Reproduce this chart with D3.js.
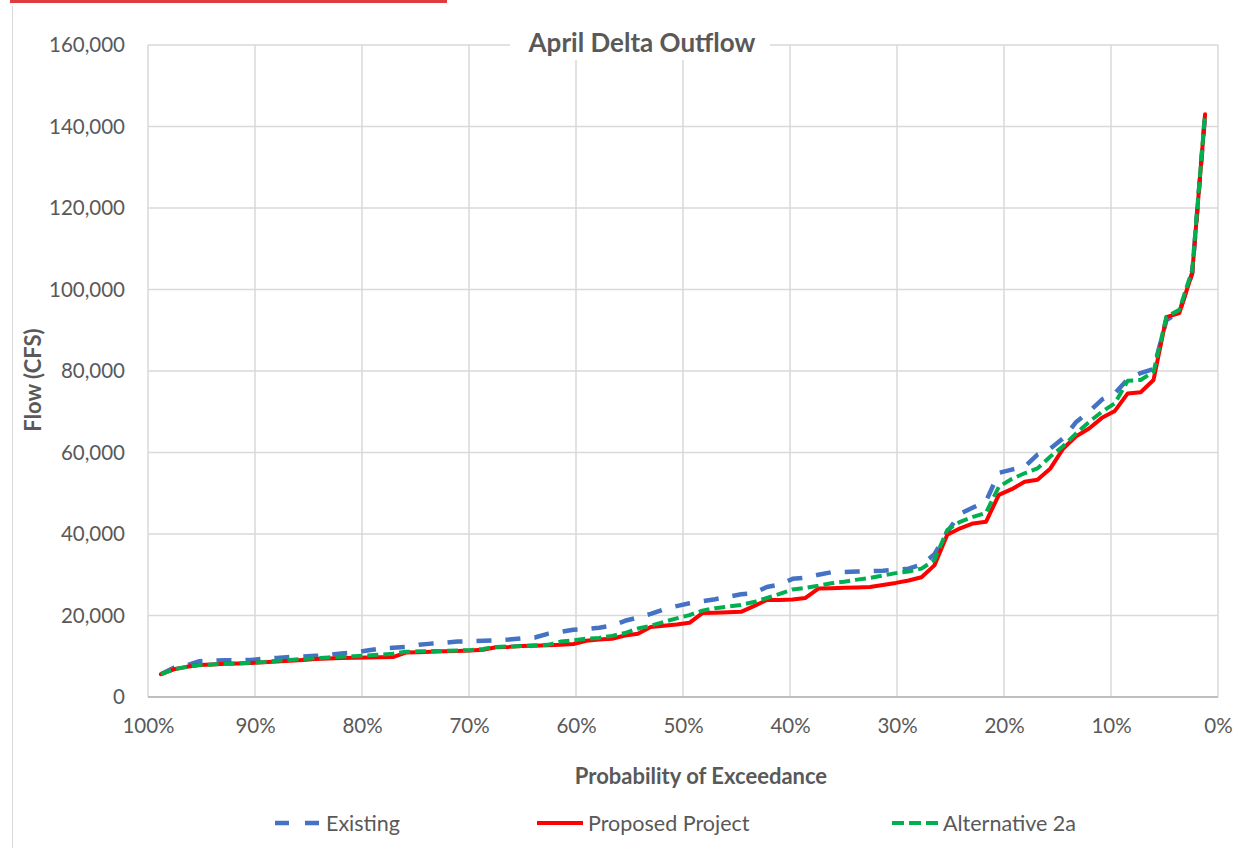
<!DOCTYPE html>
<html>
<head>
<meta charset="utf-8">
<script src="https://cdn.jsdelivr.net/npm/d3@7"></script>
<style>
  body { margin: 0; background: #fff; }
  text { font-family: Lato, "Open Sans", sans-serif; fill: #595959; }
</style>
</head>
<body>
<script>
// ranked April flows (cfs), lowest to highest
var existing = [
  5600, 7200, 7800, 8800, 8900, 9000, 9050, 9100, 9400, 9600,
  9800, 9900, 10100, 10300, 10700, 10900, 11400, 11900, 12100, 12300,
  12800, 13100, 13300, 13600, 13700, 13800, 13900, 14100, 14400, 14600,
  15500, 16000, 16500, 16700, 17000, 17500, 18700, 19500, 20400, 21500,
  22300, 23000, 23500, 24000, 24600, 25200, 25500, 27000, 27600, 29000,
  29300, 30000, 30600, 30700, 30800, 30900, 31000, 31200, 31500, 32500,
  35000, 40500, 45000, 46500, 48000, 55000, 55800, 56500, 59500, 61000,
  63500, 67500, 70000, 73000, 74500, 78000, 79500, 80500, 92500, 94500,
  104000, 143000
];

var proposed = [
  5600, 6800, 7400, 7850, 8000, 8150, 8250, 8350, 8500, 8700,
  8900, 9100, 9300, 9450, 9600, 9650, 9700, 9750, 9800, 10900,
  11000, 11100, 11200, 11300, 11400, 11600, 12200, 12300, 12500, 12600,
  12700, 12800, 13000, 13800, 14100, 14300, 15100, 15500, 17200, 17500,
  17800, 18200, 20600, 20700, 20800, 20900, 22300, 23800, 23800, 23900,
  24300, 26600, 26700, 26800, 26900, 27000, 27500, 28000, 28600, 29400,
  32300, 39800, 41400, 42600, 43000, 49600, 51000, 52800, 53300, 56100,
  61000, 64000, 65900, 68500, 70200, 74500, 74800, 77800, 93200, 94200,
  104000, 143000
];

var alt2a = [
  5600, 6800, 7400, 7850, 8000, 8150, 8270, 8400, 8600, 8900,
  9100, 9300, 9500, 9700, 9900, 10000, 10200, 10400, 10600, 11100,
  11200, 11300, 11300, 11400, 11500, 11800, 12300, 12400, 12500, 12700,
  12800, 13600, 13900, 14300, 14500, 15000, 15700, 16800, 17500, 18400,
  19300, 20100, 21200, 21800, 22200, 22600, 23300, 24300, 25300, 26400,
  26800, 27300, 27900, 28300, 28800, 29200, 29800, 30400, 30800, 31500,
  33600, 41000, 43000, 44200, 45200, 51600, 53500, 54900, 56100, 59000,
  61600, 64700, 67500, 70000, 72100, 77600, 77800, 79800, 93300, 95000,
  104800, 143300
];

var xTicks = [100, 90, 80, 70, 60, 50, 40, 30, 20, 10, 0];
var yTicks = [0, 20000, 40000, 60000, 80000, 100000, 120000, 140000, 160000];

var seriesNames = ['Existing', 'Proposed Project', 'Alternative 2a'];

// Weibull plotting position: rank / (n + 1), largest flow gets rank 1
function exceedance(i, n) {
  return (n - i) / (n + 1) * 100;
}

var width = 1238, height = 848;
var plotLeft = 148, plotRight = 1218, plotTop = 45, plotBottom = 697;

var svg = d3.select('body')
  .append('svg')
  .attr('width', width)
  .attr('height', height);

// red strip + chart border bits from the source page
svg.append('rect')
  .attr('x', 10).attr('y', 0)
  .attr('width', 437).attr('height', 3)
  .attr('fill', '#e0393e');

svg.append('line')
  .attr('x1', 12.5).attr('x2', 12.5)
  .attr('y1', 6).attr('y2', height)
  .attr('stroke', '#d9d9d9')
  .attr('stroke-width', 1);

var x = d3.scaleLinear().domain([100, 0]).range([plotLeft, plotRight]);
var y = d3.scaleLinear().domain([0, 160000]).range([plotBottom, plotTop]);

// gridlines
svg.append('g')
  .selectAll('line')
  .data(yTicks.filter(function(d) { return d > 0; }))
  .join('line')
  .attr('x1', plotLeft).attr('x2', plotRight)
  .attr('y1', function(d) { return y(d); })
  .attr('y2', function(d) { return y(d); })
  .attr('stroke', '#d9d9d9')
  .attr('stroke-width', 1.5);

svg.append('g')
  .selectAll('line')
  .data(xTicks)
  .join('line')
  .attr('x1', function(d) { return x(d); })
  .attr('x2', function(d) { return x(d); })
  .attr('y1', plotTop).attr('y2', plotBottom)
  .attr('stroke', '#d9d9d9')
  .attr('stroke-width', 1.5);

svg.append('line')
  .attr('x1', plotLeft).attr('x2', plotRight)
  .attr('y1', plotBottom).attr('y2', plotBottom)
  .attr('stroke', '#bfbfbf')
  .attr('stroke-width', 2);

// axes (labels only)
var yAxis = d3.axisLeft(y)
  .tickValues(yTicks)
  .tickSize(0)
  .tickPadding(0)
  .tickFormat(d3.format(','));

svg.append('g')
  .attr('transform', 'translate(125,0)')
  .call(yAxis)
  .call(function(g) { g.select('.domain').remove(); })
  .selectAll('text')
  .attr('font-size', 20.5)
  .attr('font-family', 'Lato')
  .attr('fill', '#595959');

var xAxis = d3.axisBottom(x)
  .tickValues(xTicks)
  .tickSize(0)
  .tickPadding(0)
  .tickFormat(function(d) { return d + '%'; });

svg.append('g')
  .attr('transform', 'translate(0,' + (plotBottom + 21) + ')')
  .call(xAxis)
  .call(function(g) { g.select('.domain').remove(); })
  .selectAll('text')
  .attr('font-size', 20.5)
  .attr('font-family', 'Lato')
  .attr('fill', '#595959');

// lines
var line = d3.line()
  .x(function(d, i, arr) { return x(exceedance(i, arr.length)); })
  .y(function(d) { return y(d); });

function draw(values, color, dash, w) {
  svg.append('path')
    .attr('d', line(values))
    .attr('fill', 'none')
    .attr('stroke', color)
    .attr('stroke-width', w)
    .attr('stroke-linejoin', 'round')
    .attr('stroke-linecap', dash ? 'butt' : 'round')
    .attr('stroke-dasharray', dash);
}

var colors = ['#4472c4', '#ff0000', '#00b050'];
var dashes = ['15,14', null, '11,5'];

draw(existing, colors[0], dashes[0], 4.5);
draw(proposed, colors[1], dashes[1], 4);
draw(alt2a, colors[2], dashes[2], 4);

// title
svg.append('rect')
  .attr('x', 510).attr('y', 28)
  .attr('width', 260).attr('height', 32)
  .attr('fill', '#fff');

svg.append('text')
  .attr('x', 642)
  .attr('y', 52)
  .attr('font-size', 26)
  .attr('font-weight', 'bold')
  .style('text-anchor', 'middle')
  .text('April Delta Outflow');

// axis titles
svg.append('text')
  .attr('x', 701)
  .attr('y', 784)
  .attr('font-size', 22)
  .attr('font-weight', 'bold')
  .style('text-anchor', 'middle')
  .text('Probability of Exceedance');

svg.append('text')
  .attr('transform', 'translate(41,380) rotate(-90)')
  .attr('font-size', 22)
  .attr('font-weight', 'bold')
  .style('text-anchor', 'middle')
  .text('Flow (CFS)');

// legend
var legendX = [275, 537, 892];
var legend = svg.append('g');

seriesNames.forEach(function(name, i) {
  legend.append('line')
    .attr('x1', legendX[i]).attr('x2', legendX[i] + 46)
    .attr('y1', 823).attr('y2', 823)
    .attr('stroke', colors[i])
    .attr('stroke-width', i == 0 ? 4.5 : 4)
    .attr('stroke-dasharray', i == 0 ? '14,16' : (i == 2 ? '12,5' : null));

  legend.append('text')
    .attr('x', legendX[i] + 51)
    .attr('y', 830.5)
    .attr('font-size', 21.5)
    .text(name);
});
</script>
</body>
</html>
